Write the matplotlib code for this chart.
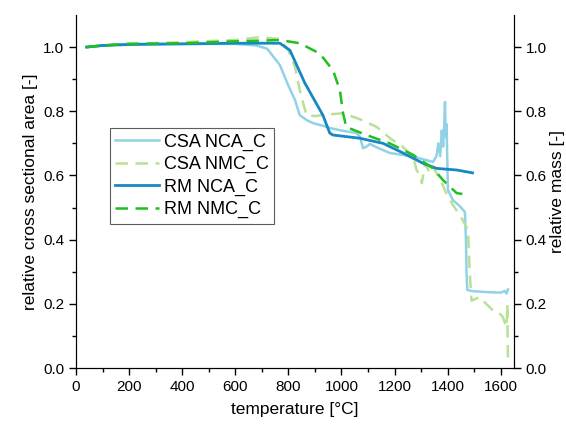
import numpy as np
import matplotlib.pyplot as plt

plt.rcParams['font.family'] = ['Liberation Sans', 'DejaVu Sans']

# CSA NCA_C
csa_nca_t = [40, 100, 200, 400, 600, 680, 720, 768, 800, 825, 843, 870, 893, 930, 956,
             1000, 1058, 1070, 1081, 1095, 1107, 1140, 1182, 1230, 1270, 1310, 1345,
             1358, 1365, 1372, 1378, 1383, 1387, 1390, 1393, 1396, 1401, 1410, 1420,
             1445, 1465, 1469, 1471, 1474, 1490, 1520, 1560, 1600, 1615, 1622, 1627]
csa_nca_v = [1.0, 1.005, 1.01, 1.01, 1.01, 1.005, 0.995, 0.944, 0.88, 0.835, 0.788, 0.772,
             0.763, 0.755, 0.748, 0.740, 0.732, 0.72, 0.685, 0.69, 0.698, 0.685, 0.670,
             0.664, 0.658, 0.650, 0.642, 0.66, 0.70, 0.66, 0.74, 0.69, 0.75, 0.829, 0.72,
             0.76, 0.555, 0.54, 0.523, 0.505, 0.486, 0.40, 0.30, 0.243, 0.24, 0.238,
             0.236, 0.235, 0.24, 0.232, 0.245]

# CSA NMC_C
csa_nmc_t = [40, 100, 200, 400, 600, 693, 768, 800, 825, 843, 868, 900, 950, 1006, 1070,
             1133, 1183, 1230, 1270, 1283, 1295, 1303, 1315, 1333, 1345, 1370, 1395, 1420,
             1450, 1477, 1483, 1490, 1521, 1545, 1570, 1590, 1607, 1622, 1625, 1627]
csa_nmc_v = [1.0, 1.005, 1.01, 1.015, 1.022, 1.031, 1.025, 0.99, 0.938, 0.866, 0.788, 0.785,
             0.79, 0.794, 0.775, 0.751, 0.716, 0.69, 0.658, 0.617, 0.60, 0.576, 0.638,
             0.607, 0.627, 0.59, 0.545, 0.508, 0.471, 0.43, 0.30, 0.21, 0.221, 0.20, 0.18,
             0.175, 0.16, 0.128, 0.20, 0.03]

# RM NCA_C
rm_nca_t = [40, 100, 200, 400, 600, 720, 768, 806, 862, 930, 956, 968, 1069, 1157, 1232,
            1307, 1358, 1434, 1494]
rm_nca_v = [1.0, 1.005, 1.008, 1.01, 1.012, 1.012, 1.012, 0.99, 0.888, 0.788, 0.732, 0.726,
            0.716, 0.70, 0.67, 0.638, 0.622, 0.617, 0.608]

# RM NMC_C
rm_nmc_t = [40, 100, 200, 400, 600, 768, 843, 918, 968, 994, 1006, 1018, 1094, 1182, 1270,
            1345, 1382, 1434, 1483]
rm_nmc_v = [1.0, 1.005, 1.01, 1.012, 1.018, 1.022, 1.012, 0.98, 0.928, 0.866, 0.794, 0.751,
            0.726, 0.70, 0.664, 0.622, 0.586, 0.545, 0.539]

fig = plt.figure(figsize=(5.66, 4.25), dpi=100)
ax = fig.add_axes([76/566, 57/425, 438/566, 353/425])

ax.plot(csa_nca_t, csa_nca_v, color='#92d2e6', lw=1.8, label='CSA NCA_C')
ax.plot(csa_nmc_t, csa_nmc_v, color='#b9e196', lw=1.8, ls=(0, (5, 3)), label='CSA NMC_C')
ax.plot(rm_nca_t, rm_nca_v, color='#1688c4', lw=2.0, label='RM NCA_C')
ax.plot(rm_nmc_t, rm_nmc_v, color='#20bf20', lw=1.8, ls=(0, (5, 3)), label='RM NMC_C')

ax.set_xlim(0, 1650)
ax.set_ylim(0, 1.1)
ax.set_xticks(np.arange(0, 1601, 200))
ax.set_xticks(np.arange(0, 1601, 100), minor=True)
ax.set_yticks(np.arange(0, 1.01, 0.2))
ax.set_yticks(np.arange(0, 1.01, 0.1), minor=True)
ax.yaxis.set_major_formatter(plt.FormatStrFormatter('%.1f'))
ax.spines['top'].set_visible(False)
ax.tick_params(which='both', direction='out', labelsize=11, width=1)
ax.tick_params(which='major', length=5)
ax.tick_params(which='minor', length=3)
ax.set_xlabel('temperature [°C]', fontsize=12.5, labelpad=6)
ax.set_ylabel('relative cross sectional area [-]', fontsize=12.5)

ax2 = ax.twinx()
ax2.set_ylim(0, 1.1)
ax2.set_yticks(np.arange(0, 1.01, 0.2))
ax2.set_yticks(np.arange(0, 1.01, 0.1), minor=True)
ax2.yaxis.set_major_formatter(plt.FormatStrFormatter('%.1f'))
ax2.spines['top'].set_visible(False)
ax2.tick_params(which='both', direction='out', labelsize=11, width=1)
ax2.tick_params(which='major', length=5)
ax2.tick_params(which='minor', length=3)
ax2.set_ylabel('relative mass [-]', fontsize=12.5, labelpad=2)

leg = ax.legend(loc='upper left', bbox_to_anchor=(34/438, (368-128)/353), fontsize=13,
                frameon=True, fancybox=False, edgecolor='#333333', handlelength=2.4,
                borderpad=0.3, labelspacing=0.3, handletextpad=0.3, borderaxespad=0)
leg.get_frame().set_linewidth(0.8)

fig.savefig('out.png', dpi=100)
